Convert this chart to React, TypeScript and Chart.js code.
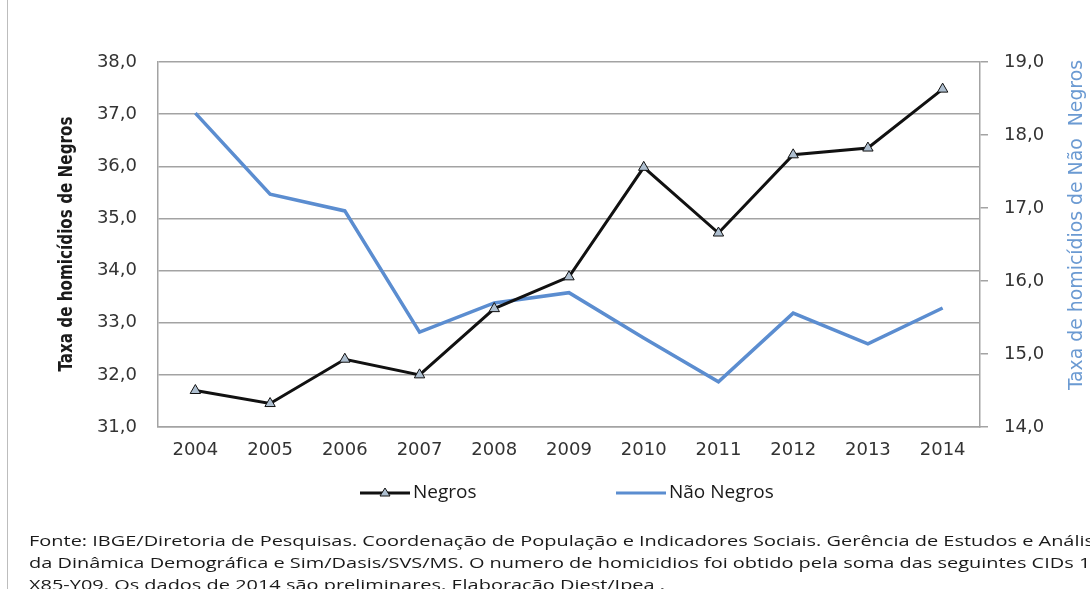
import React, { useEffect, useRef } from "react";
import { Chart, registerables } from "chart.js";

Chart.register(...registerables);

// Homicide rates per 100k inhabitants, Brazil 2004-2014
const years = ["2004", "2005", "2006", "2007", "2008", "2009", "2010", "2011", "2012", "2013", "2014"];
const negros = [31.7, 31.45, 32.3, 32.0, 33.27, 33.88, 35.98, 34.72, 36.22, 36.35, 37.48];
const naoNegros = [18.3, 17.19, 16.96, 15.3, 15.7, 15.84, 15.22, 14.62, 15.56, 15.14, 15.63];

const leftRange = [31, 38];
const rightRange = [14, 19];

const leftTitle = "Taxa de homicídios de Negros";
const rightTitle = "Taxa de homicídios de Não  Negros";

const sourceLines = [
  "Fonte: IBGE/Diretoria de Pesquisas. Coordenação de População e Indicadores Sociais. Gerência de Estudos e Análises",
  "da Dinâmica Demográfica e Sim/Dasis/SVS/MS. O numero de homicidios foi obtido pela soma das seguintes CIDs 10:",
  "X85-Y09.  Os dados de 2014  são preliminares. Elaboração Diest/Ipea .",
];

const BLACK = "#111111";
const BLUE = "#5B8DD0";
const TITLE_BLUE = "#6B9AD2";
const GRID = "#a3a3a3";
const MARKER_FILL = "#AEBFD0";
const TICK_FONT = { family: "'DejaVu Sans', sans-serif", size: 18 };
const TITLE_FAMILY = "'DejaVu Sans Condensed', 'DejaVu Sans', sans-serif";

const fmt = (v: number) => v.toFixed(1).replace(".", ",");

// vertical title, squeezed along its reading direction to a given length
function drawVerticalTitle(
  ctx: CanvasRenderingContext2D,
  text: string,
  cx: number,
  cy: number,
  length: number,
  font: string,
  color: string
) {
  ctx.save();
  ctx.font = font;
  ctx.fillStyle = color;
  ctx.textAlign = "center";
  ctx.textBaseline = "middle";
  const w = ctx.measureText(text).width;
  ctx.translate(cx, cy);
  ctx.rotate(-Math.PI / 2);
  ctx.scale(length / w, 1);
  ctx.fillText(text, 0, 0);
  ctx.restore();
}

const decorations = {
  id: "decorations",
  afterDraw(chart: any) {
    const ctx = chart.ctx as CanvasRenderingContext2D;

    drawVerticalTitle(ctx, leftTitle, 67, 244, 255, `bold 19px ${TITLE_FAMILY}`, "#1a1a1a");
    drawVerticalTitle(ctx, rightTitle, 1077, 225, 330, `19px ${TITLE_FAMILY}`, TITLE_BLUE);

    // legend
    const ly = 493;
    const ds = chart.data.datasets;
    ctx.save();
    ctx.font = "19px 'Open Sans', sans-serif";
    ctx.textBaseline = "middle";
    ctx.textAlign = "left";
    const items = [
      { x: 360, ds: ds[0], marker: true },
      { x: 616, ds: ds[1], marker: false },
    ];
    for (const it of items) {
      ctx.strokeStyle = it.ds.borderColor;
      ctx.lineWidth = 3;
      ctx.beginPath();
      ctx.moveTo(it.x, ly);
      ctx.lineTo(it.x + 50, ly);
      ctx.stroke();
      if (it.marker) {
        const cx = it.x + 25;
        ctx.fillStyle = MARKER_FILL;
        ctx.strokeStyle = BLACK;
        ctx.lineWidth = 1;
        ctx.beginPath();
        ctx.moveTo(cx, ly - 5);
        ctx.lineTo(cx + 5, ly + 3);
        ctx.lineTo(cx - 5, ly + 3);
        ctx.closePath();
        ctx.fill();
        ctx.stroke();
      }
      ctx.fillStyle = "#1a1a1a";
      ctx.fillText(it.ds.label, it.x + 53, ly);
    }
    ctx.restore();
  },
};

export default function App() {
  const ref = useRef<HTMLCanvasElement | null>(null);

  useEffect(() => {
    if (!ref.current) return;
    const chart = new Chart(ref.current, {
      type: "line",
      data: {
        labels: years,
        datasets: [
          {
            label: "Negros",
            data: negros,
            yAxisID: "y",
            borderColor: BLACK,
            borderWidth: 3,
            pointStyle: "triangle",
            pointRadius: 6,
            pointBackgroundColor: MARKER_FILL,
            pointBorderColor: BLACK,
            pointBorderWidth: 1,
            tension: 0,
          },
          {
            label: "Não Negros",
            data: naoNegros,
            yAxisID: "y2",
            borderColor: BLUE,
            borderWidth: 3.5,
            pointRadius: 0,
            tension: 0,
          },
        ],
      },
      options: {
        responsive: false,
        animation: false,
        layout: { padding: { left: 0, right: 0, top: 62, bottom: 0 } },
        plugins: { legend: { display: false }, tooltip: { enabled: false } },
        scales: {
          x: {
            offset: true,
            grid: { display: true, drawOnChartArea: false, drawTicks: false },
            border: { color: GRID, width: 1.5 },
            ticks: { color: "#333", font: TICK_FONT, padding: 13, maxRotation: 0 },
            afterFit: (s: any) => {
              s.height = 589 - 427;
            },
          },
          y: {
            position: "left",
            min: leftRange[0],
            max: leftRange[1],
            grid: { color: GRID, lineWidth: 1.5, drawTicks: false },
            border: { color: GRID, width: 1.5 },
            ticks: { stepSize: 1, color: "#333", font: TICK_FONT, padding: 21, callback: (v: any) => fmt(Number(v)) },
            afterFit: (s: any) => {
              s.width = 158;
            },
          },
          y2: {
            position: "right",
            min: rightRange[0],
            max: rightRange[1],
            grid: { drawOnChartArea: false, color: GRID, lineWidth: 1.5, tickLength: 8 },
            border: { color: GRID, width: 1.5 },
            ticks: { stepSize: 1, color: "#333", font: TICK_FONT, padding: 16, callback: (v: any) => fmt(Number(v)) },
            afterFit: (s: any) => {
              s.width = 110;
            },
          },
        },
      },
      plugins: [decorations],
    });
    return () => chart.destroy();
  }, []);

  return (
    <div style={{ position: "absolute", left: 0, top: 0, width: 1090, height: 589, overflow: "hidden", background: "#fff" }}>
      <canvas ref={ref} width={1090} height={589} style={{ position: "absolute", left: 0, top: 0 }} />
      <div style={{ position: "absolute", left: 7, top: 0, width: 1, height: 589, background: "#bdbdbd" }} />
      <div
        style={{
          position: "absolute",
          left: 29,
          top: 529,
          whiteSpace: "nowrap",
          fontFamily: "'Open Sans', sans-serif",
          fontSize: 15,
          lineHeight: "22px",
          color: "#1a1a1a",
          transform: "scaleX(1.33)",
          transformOrigin: "0 0",
        }}
      >
        {sourceLines.map((l, i) => (
          <div key={i}>{l}</div>
        ))}
      </div>
    </div>
  );
}
